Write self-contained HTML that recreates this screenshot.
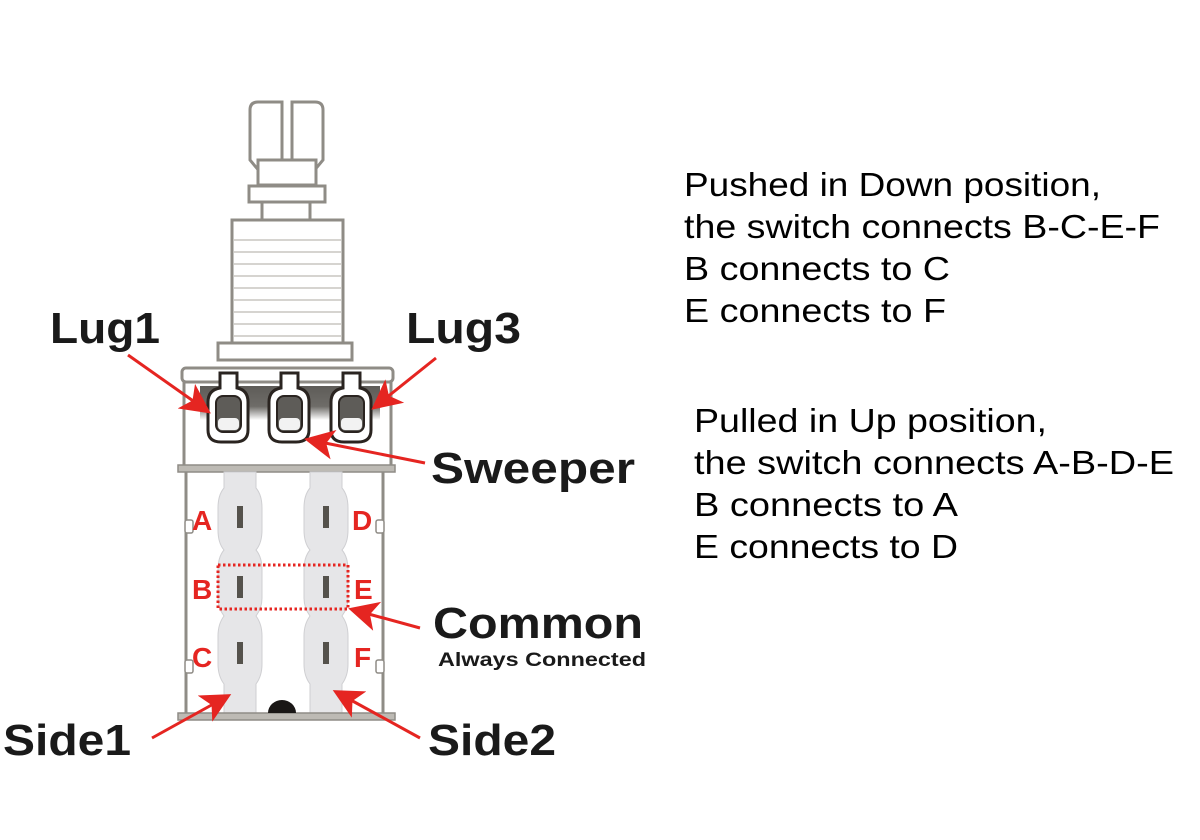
<!DOCTYPE html>
<html><head><meta charset="utf-8"><style>
html,body{margin:0;padding:0;background:#fff;width:1200px;height:840px;overflow:hidden}
svg{display:block}
.t{font-family:"Liberation Sans",Arial,sans-serif;font-size:33px;fill:#000}
.b{font-family:"Liberation Sans",Arial,sans-serif;font-weight:bold;fill:#1a1a1a}
.r{font-family:"Liberation Sans",Arial,sans-serif;font-weight:bold;fill:#e52521;font-size:28px}
</style></head><body>
<svg width="1200" height="840" viewBox="0 0 1200 840" xmlns="http://www.w3.org/2000/svg">
<defs>
<marker id="ah" markerWidth="10" markerHeight="10" refX="8" refY="5" orient="auto" markerUnits="strokeWidth">
<path d="M0,0 L10,5 L0,10 L2.5,5 Z" fill="#e52521"/></marker>
<linearGradient id="band" x1="0" y1="0" x2="0" y2="1">
<stop offset="0" stop-color="#5e5c58"/><stop offset="0.6" stop-color="#6e6c68"/><stop offset="1" stop-color="#ffffff"/></linearGradient>
</defs>
<g fill="#fff" stroke="#8f8c86" stroke-width="3">
<path d="M250,110 Q250,102 258,102 L282,102 L282,172 L260,172 L250,160 Z"/>
<path d="M323,110 Q323,102 315,102 L292,102 L292,172 L313,172 L323,160 Z"/>
<rect x="258" y="160" width="58" height="25"/>
<rect x="249" y="186" width="76" height="16"/>
<rect x="262" y="202" width="48" height="18"/>
<rect x="232" y="220" width="111" height="123"/>
<rect x="218" y="343" width="134" height="17"/>
<rect x="184" y="378" width="207" height="92"/>
<rect x="182" y="368" width="211" height="14" rx="4"/>
<rect x="186" y="470" width="197" height="246"/>
</g>
<g stroke="#c9c6c0" stroke-width="1.5">
<line x1="234" y1="240" x2="341" y2="240"/><line x1="234" y1="252" x2="341" y2="252"/>
<line x1="234" y1="264" x2="341" y2="264"/><line x1="234" y1="276" x2="341" y2="276"/>
<line x1="234" y1="288" x2="341" y2="288"/><line x1="234" y1="300" x2="341" y2="300"/>
<line x1="234" y1="312" x2="341" y2="312"/><line x1="234" y1="324" x2="341" y2="324"/>
<line x1="234" y1="336" x2="341" y2="336"/>
</g>
<rect x="200" y="386" width="180" height="34" fill="url(#band)"/>
<!-- lugs -->
<g fill="#fff" stroke="#2a2420" stroke-width="3">
<path d="M220,373 h17 v15 q11,2 11,14 v28 q0,12 -13,12 h-14 q-13,0 -13,-12 v-28 q0,-12 12,-14 z"/>
<path d="M281,373 h17 v15 q11,2 11,14 v28 q0,12 -13,12 h-14 q-13,0 -13,-12 v-28 q0,-12 12,-14 z"/>
<path d="M343,373 h17 v15 q11,2 11,14 v28 q0,12 -13,12 h-14 q-13,0 -13,-12 v-28 q0,-12 12,-14 z"/>
</g>
<g fill="#5e5c58" stroke="#2a2420" stroke-width="2">
<rect x="216" y="396" width="25" height="36" rx="7"/>
<rect x="277" y="396" width="25" height="36" rx="7"/>
<rect x="339" y="396" width="25" height="36" rx="7"/>
</g>
<g fill="#f2f2f2"><rect x="218" y="418" width="21" height="12" rx="4"/><rect x="279" y="418" width="21" height="12" rx="4"/><rect x="341" y="418" width="21" height="12" rx="4"/></g>
<rect x="178" y="465" width="217" height="7" fill="#bdbab4" stroke="#8f8c86" stroke-width="1.5"/>
<!-- strips -->
<g fill="#e6e6e8" stroke="#cfcfd2" stroke-width="1">
<path d="M224,472 H256 V488 Q262,495 262,508 V530 Q262,543 256,550 Q262,557 262,570 V598 Q262,608 256,616 Q262,624 262,636 V664 Q262,676 256,684 V714 H224 V684 Q218,676 218,664 V636 Q218,624 224,616 Q218,608 218,598 V570 Q218,557 224,550 Q218,543 218,530 V508 Q218,495 224,488 Z"/>
<path d="M310,472 H342 V488 Q348,495 348,508 V530 Q348,543 342,550 Q348,557 348,570 V598 Q348,608 342,616 Q348,624 348,636 V664 Q348,676 342,684 V714 H310 V684 Q304,676 304,664 V636 Q304,624 310,616 Q304,608 304,598 V570 Q304,557 310,550 Q304,543 304,530 V508 Q304,495 310,488 Z"/>
</g>
<rect x="178" y="713" width="217" height="7" fill="#bdbab4" stroke="#8f8c86" stroke-width="1.5"/>
<g fill="#55524c">
<rect x="237" y="506" width="6" height="22"/><rect x="237" y="576" width="6" height="22"/><rect x="237" y="642" width="6" height="22"/>
<rect x="323" y="506" width="6" height="22"/><rect x="323" y="576" width="6" height="22"/><rect x="323" y="642" width="6" height="22"/>
</g>
<g fill="#fff" stroke="#8f8c86" stroke-width="1.5">
<rect x="185" y="520" width="8" height="13" rx="2"/><rect x="185" y="660" width="8" height="13" rx="2"/>
<rect x="376" y="520" width="8" height="13" rx="2"/><rect x="376" y="660" width="8" height="13" rx="2"/>
</g>
<path d="M268,713 a14,13 0 0 1 28,0 z" fill="#1a1716"/>
<rect x="218" y="565" width="130" height="44" fill="none" stroke="#e52521" stroke-width="3" stroke-dasharray="2.5,2.5"/>
<text class="r" x="192" y="530">A</text><text class="r" x="192" y="599">B</text><text class="r" x="192" y="667">C</text>
<text class="r" x="352" y="530">D</text><text class="r" x="354" y="599">E</text><text class="r" x="354" y="667">F</text>
<g stroke="#e52521" stroke-width="3" fill="none" marker-end="url(#ah)">
<line x1="128" y1="355" x2="206" y2="410"/>
<line x1="436" y1="358" x2="376" y2="406"/>
<line x1="425" y1="463" x2="310" y2="440"/>
<line x1="420" y1="628" x2="354" y2="610"/>
<line x1="152" y1="738" x2="226" y2="697"/>
<line x1="420" y1="738" x2="338" y2="693"/>
</g>
<text class="b" x="50" y="343" font-size="44" textLength="110" lengthAdjust="spacingAndGlyphs">Lug1</text>
<text class="b" x="406" y="343" font-size="44" textLength="115" lengthAdjust="spacingAndGlyphs">Lug3</text>
<text class="b" x="431" y="483" font-size="44" textLength="204" lengthAdjust="spacingAndGlyphs">Sweeper</text>
<text class="b" x="433" y="638" font-size="44" textLength="210" lengthAdjust="spacingAndGlyphs">Common</text>
<text class="b" x="438" y="666" font-size="19" textLength="208" lengthAdjust="spacingAndGlyphs">Always Connected</text>
<text class="b" x="3" y="755" font-size="44" textLength="128" lengthAdjust="spacingAndGlyphs">Side1</text>
<text class="b" x="428" y="755" font-size="44" textLength="128" lengthAdjust="spacingAndGlyphs">Side2</text>
<text class="t" x="684" y="196" textLength="417" lengthAdjust="spacingAndGlyphs">Pushed in Down position,</text>
<text class="t" x="684" y="238" textLength="476" lengthAdjust="spacingAndGlyphs">the switch connects B-C-E-F</text>
<text class="t" x="684" y="280" textLength="266" lengthAdjust="spacingAndGlyphs">B connects to C</text>
<text class="t" x="684" y="322" textLength="262" lengthAdjust="spacingAndGlyphs">E connects to F</text>
<text class="t" x="694" y="432" textLength="353" lengthAdjust="spacingAndGlyphs">Pulled in Up position,</text>
<text class="t" x="694" y="474" textLength="480" lengthAdjust="spacingAndGlyphs">the switch connects A-B-D-E</text>
<text class="t" x="694" y="516" textLength="264" lengthAdjust="spacingAndGlyphs">B connects to A</text>
<text class="t" x="694" y="558" textLength="264" lengthAdjust="spacingAndGlyphs">E connects to D</text>
</svg>
</body></html>
